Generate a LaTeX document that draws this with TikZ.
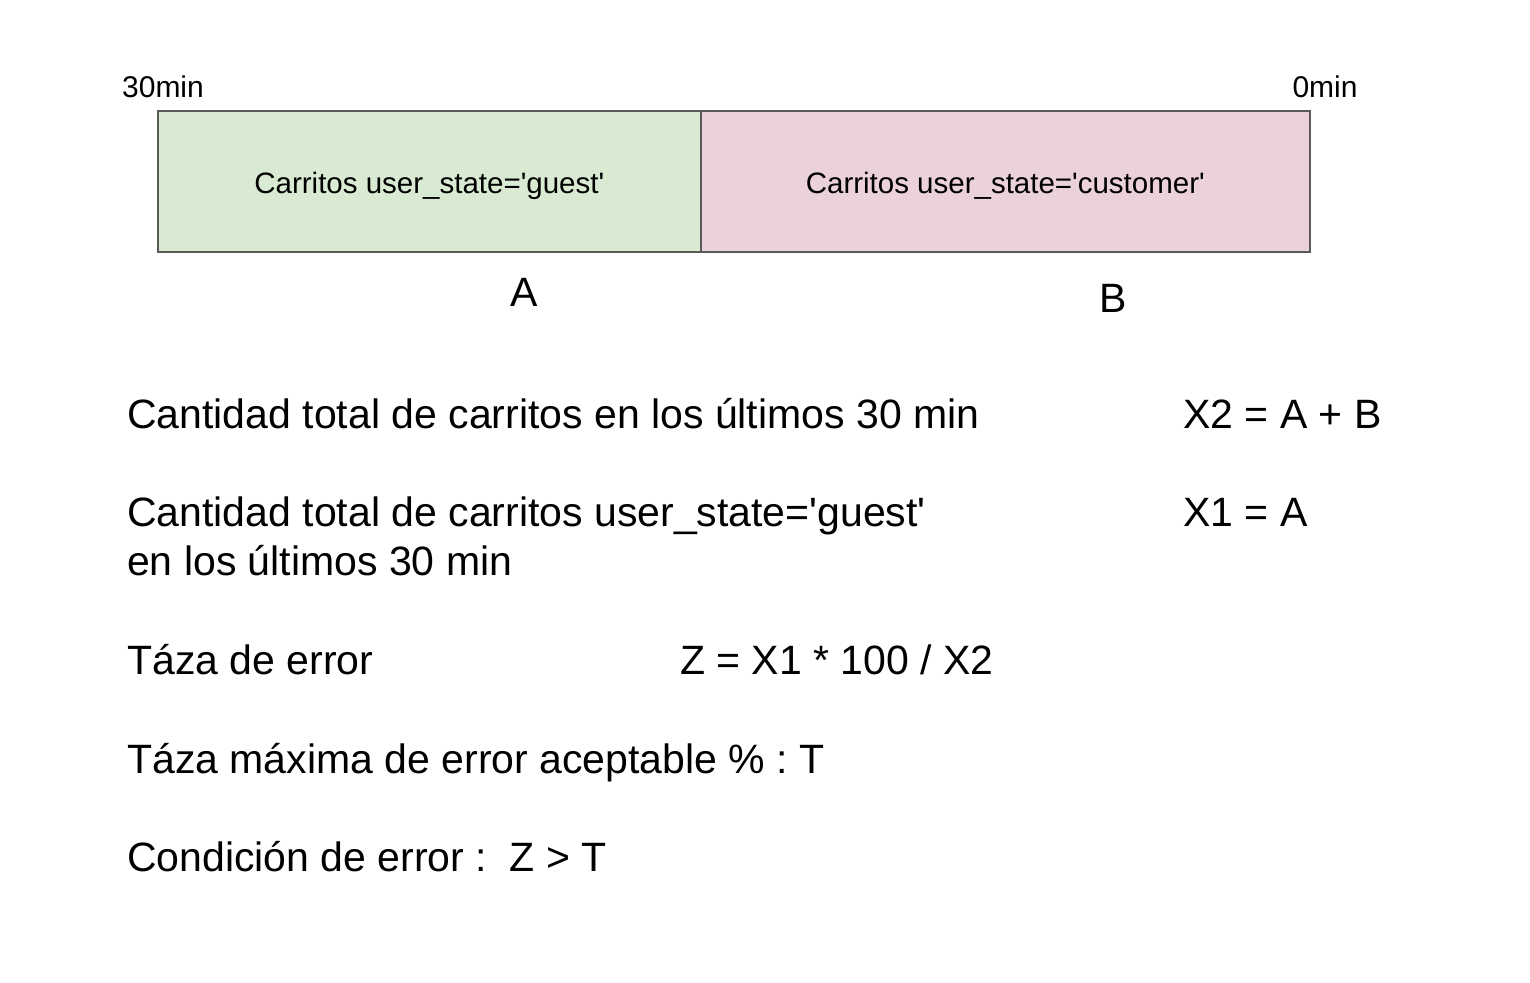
\documentclass[tikz,border=0pt]{standalone}
\usepackage{fontspec}
\setmainfont{Liberation Sans}
\usepackage{xcolor}
\usepackage{tikz}
\usetikzlibrary{positioning}
\frenchspacing

\definecolor{guestfill}{HTML}{D9EAD3}
\definecolor{custfill}{HTML}{EAD1DC}
\definecolor{segline}{HTML}{595959}
\newcommand{\q}{\textquotesingle}

\begin{document}
\begin{tikzpicture}[
					x=1pt, y=-1pt,
					segnode/.style={
						rectangle, draw=segline, line width=1.6pt,
						minimum height=141pt, inner sep=0pt, anchor=north west,
						text height=24pt, text depth=0pt,
						font=\fontsize{29.5}{34}\selectfont
					},
					minlbl/.style={
						font=\fontsize{30}{35}\selectfont, anchor=base, inner sep=0pt
					},
					biglbl/.style={
						font=\fontsize{41}{49}\selectfont, anchor=base west, inner sep=0pt
					}
					]
					\useasboundingbox (0,0) rectangle (1530,982);
					
					% --- Barra de tiempo ---
					\node[segnode, fill=guestfill, minimum width=543pt] (guest) at (157,110) {Carritos user\_state=\q guest\q};
					\node[segnode, fill=custfill, minimum width=609pt] (cust) at (700,110) {Carritos user\_state=\q customer\q};
					\node[minlbl] (t30) at (163,97) {30min};
					\node[minlbl] (t0) at (1325,97) {0min};
					\node[biglbl, anchor=base] (A) at (524,306) {A};
					\node[biglbl, anchor=base] (B) at (1113,312) {B};
					
					% --- Definiciones ---
					\node[biglbl] (total) at (127,428) {Cantidad total de carritos en los últimos 30 min};
					\node[biglbl] (xtwo) at (1183,428) {X2 = A + B};
					\node[biglbl] (guesttot) at (127,526) {Cantidad total de carritos user\_state=\q guest\q};
					\node[biglbl] (guesttotb) at (127,575) {en los últimos 30 min};
					\node[biglbl] (xone) at (1183,526) {X1 = A};
					\node[biglbl] (tasa) at (127,674) {Táza de error};
					\node[biglbl] (zdef) at (680,674) {Z = X1 * 100 / X2};
					\node[biglbl] (tmax) at (127,773) {Táza máxima de error aceptable \% : T};
					\node[biglbl] (cond) at (127,871) {Condición de error :\ \ Z > T};
				\end{tikzpicture}
\end{document}
